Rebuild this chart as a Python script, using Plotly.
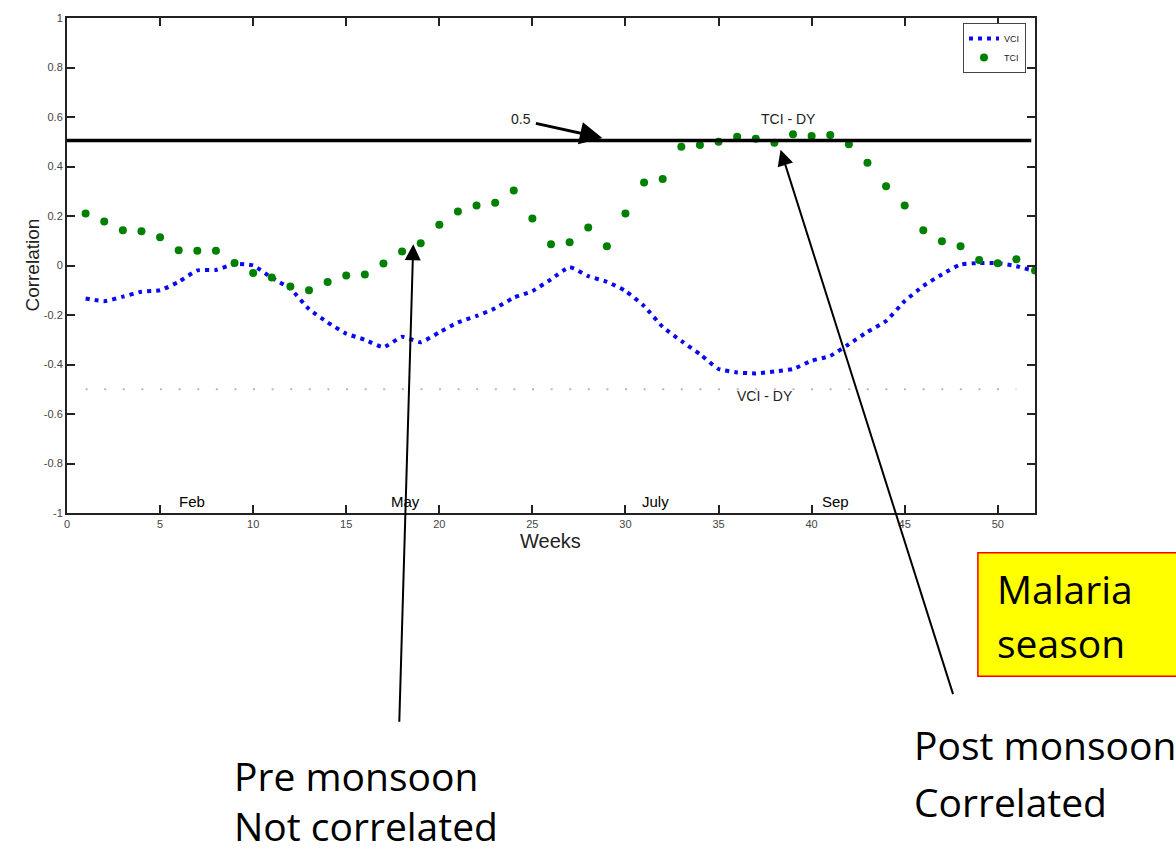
import plotly.graph_objects as go

# ---------------- data ----------------
weeks = list(range(1, 53))
tci = [0.21, 0.178, 0.142, 0.138, 0.114, 0.062, 0.06, 0.06, 0.01, -0.03,
       -0.048, -0.085, -0.10, -0.067, -0.04, -0.036, 0.008, 0.057, 0.09, 0.165,
       0.218, 0.242, 0.254, 0.303, 0.19, 0.086, 0.094, 0.154, 0.078, 0.21,
       0.335, 0.35, 0.48, 0.487, 0.50, 0.52, 0.512, 0.496, 0.53, 0.523,
       0.527, 0.49, 0.415, 0.32, 0.242, 0.142, 0.098, 0.078, 0.022, 0.009,
       0.025, -0.02]
vci = [-0.133, -0.144, -0.126, -0.106, -0.10, -0.066, -0.02, -0.018, 0.006, 0.0,
       -0.05, -0.094, -0.176, -0.23, -0.275, -0.30, -0.33, -0.288, -0.31, -0.27,
       -0.23, -0.204, -0.173, -0.13, -0.103, -0.056, -0.007, -0.043, -0.066, -0.103,
       -0.164, -0.248, -0.305, -0.358, -0.418, -0.432, -0.436, -0.428, -0.418, -0.385,
       -0.365, -0.318, -0.268, -0.224, -0.144, -0.083, -0.036, 0.004, 0.01, 0.01,
       -0.003, -0.023]

upper_level = 0.505
lower_level = -0.5
lower_span = [1, 51]
upper_span = [0, 51.8]

x_ticks = [0, 5, 10, 15, 20, 25, 30, 35, 40, 45, 50]
y_ticks = [-1, -0.8, -0.6, -0.4, -0.2, 0, 0.2, 0.4, 0.6, 0.8, 1]
y_ticktext = ["-1", "-0.8", "-0.6", "-0.4", "-0.2", "0", "0.2", "0.4", "0.6", "0.8", "1"]

months = ["Feb", "May", "July", "Sep"]
month_pos = [6.72, 18.2, 31.6, 41.3]

AXFONT = "Liberation Sans, Arial, sans-serif"
BIGFONT = "Open Sans, Noto Sans, sans-serif"

fig = go.Figure()
fig.add_trace(go.Scatter(
    x=weeks, y=vci, mode="lines", name="VCI",
    line=dict(color="rgb(10,10,240)", width=4, dash="4px,5px", shape="spline", smoothing=0.5),
))
fig.add_trace(go.Scatter(
    x=weeks, y=tci, mode="markers", name="TCI",
    marker=dict(color="rgb(0,128,0)", size=8),
))

# reference lines
fig.add_shape(type="line", xref="x", yref="y", x0=upper_span[0], x1=upper_span[1],
              y0=upper_level, y1=upper_level, line=dict(color="black", width=3.5))
fig.add_shape(type="line", xref="x", yref="y", x0=lower_span[0], x1=lower_span[1],
              y0=lower_level, y1=lower_level,
              line=dict(color="#b8b8b8", width=2, dash="2px,16.6px"))

ann = []
# month labels
for m, p in zip(months, month_pos):
    ann.append(dict(x=p, y=-0.955, xref="x", yref="y", text=m, showarrow=False,
                    font=dict(family=AXFONT, size=15, color="black")))
ann.append(dict(x=38.76, y=0.592, xref="x", yref="y", text="TCI - DY", showarrow=False,
                font=dict(family=AXFONT, size=14, color="#222")))
ann.append(dict(x=37.5, y=-0.528, xref="x", yref="y", text="VCI - DY", showarrow=False,
                font=dict(family=AXFONT, size=14, color="#222")))
ann.append(dict(x=24.4, y=0.592, xref="x", yref="y", text="0.5", showarrow=False,
                font=dict(family=AXFONT, size=14, color="#222")))
# arrows
ann.append(dict(x=28.76, y=0.515, xref="x", yref="y", text="", showarrow=True,
                ax=-68, ay=-15, arrowhead=2, arrowsize=1.5, arrowwidth=3, arrowcolor="black"))
ann.append(dict(x=18.6, y=0.086, xref="x", yref="y", text="", showarrow=True,
                ax=-14, ay=479, arrowhead=2, arrowsize=1.6, arrowwidth=2, arrowcolor="black"))
ann.append(dict(x=38.33, y=0.468, xref="x", yref="y", text="", showarrow=True,
                ax=173, ay=546, arrowhead=2, arrowsize=1.6, arrowwidth=2, arrowcolor="black"))
# axis titles
ann.append(dict(x=25.97, y=-0.056, xref="x", yref="paper", text="Weeks", showarrow=False,
                yanchor="middle", font=dict(family=AXFONT, size=20, color="#222")))
ann.append(dict(x=-0.049, y=0.5, xref="paper", yref="paper", text="Correlation", showarrow=False,
                textangle=-90, font=dict(family=AXFONT, size=19, color="#222")))

# outside texts
def big(x, y, t):
    return dict(x=x, y=y, xref="paper", yref="paper", text=t, showarrow=False,
                xanchor="left", yanchor="middle",
                font=dict(family=BIGFONT, size=39, color="black"))

ann += [big(0.1705, -0.53, "Pre monsoon"), big(0.1705, -0.632, "Not correlated"),
        big(0.873, -0.467, "Post monsoon"), big(0.873, -0.583, "Correlated"),
        big(0.959, -0.153, "Malaria"), big(0.959, -0.262, "season")]

fig.add_shape(type="rect", xref="paper", yref="paper", x0=0.941, x1=1.2, y0=-0.33, y1=-0.0805,
              fillcolor="#ffff00", line=dict(color="red", width=1.5), layer="below")

fig.update_layout(
    width=1176, height=853,
    margin=dict(l=67, r=141, t=16, b=340),
    paper_bgcolor="white", plot_bgcolor="white",
    annotations=ann,
    showlegend=True,
    legend=dict(x=0.9256, y=0.99, xanchor="left", yanchor="top",
                bordercolor="#444", borderwidth=1, bgcolor="white",
                font=dict(family=AXFONT, size=9, color="#222"),
                tracegroupgap=0, itemwidth=30),
    xaxis=dict(range=[0, 52], tickvals=x_ticks, ticks="inside", ticklen=8, tickwidth=1.5,
               tickcolor="#222", showline=True, linecolor="#222", linewidth=2, mirror="ticks",
               showgrid=False, zeroline=False,
               tickfont=dict(family=AXFONT, size=11, color="#444")),
    yaxis=dict(range=[-1, 1], tickvals=y_ticks, ticktext=y_ticktext, ticks="inside", ticklen=8,
               tickwidth=1.5, tickcolor="#222", showline=True, linecolor="#222", linewidth=2,
               mirror="ticks", showgrid=False, zeroline=False,
               tickfont=dict(family=AXFONT, size=11, color="#444")),
)

fig.write_html("out.html")
